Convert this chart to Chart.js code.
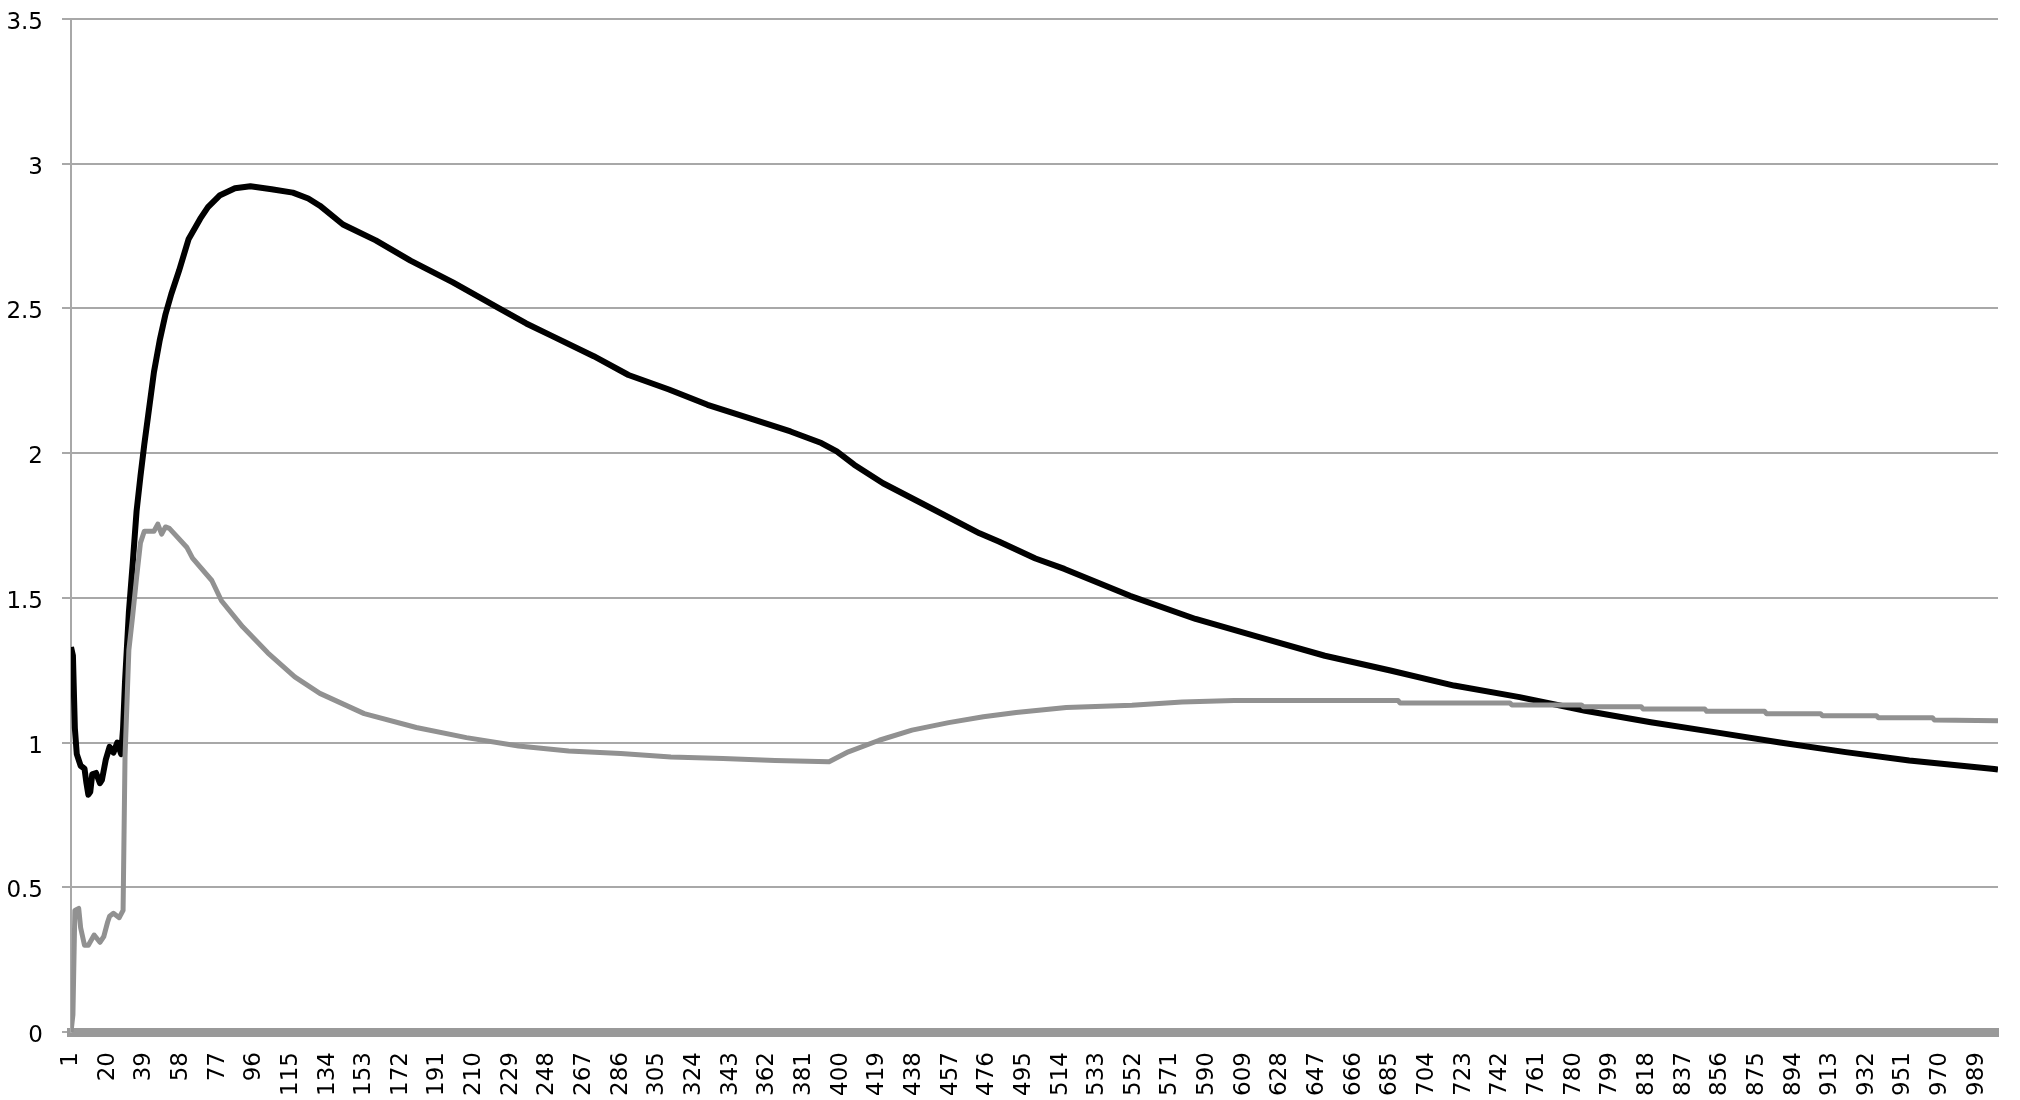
<!DOCTYPE html>
<html>
<head>
<meta charset="utf-8">
<script src="https://cdn.jsdelivr.net/npm/chart.js"></script>
<style>
  body { margin: 0; background: #fff; }
  #wrap { width: 2020px; height: 1100px; }
</style>
</head>
<body>
<div id="wrap"><canvas id="chart"></canvas></div>
<script>
// x positions (row number) and values
const blackX = [1, 2, 3, 4, 6, 8, 9, 10, 11, 12, 14, 16, 17, 19, 21, 23, 25, 27, 28, 29, 31, 33, 35, 37, 39, 41, 44, 47, 50, 53, 57, 62, 68, 72, 78, 86, 94, 105, 116, 124, 130, 142, 159, 177, 199, 223, 237, 250, 272, 290, 311, 331, 353, 374, 390, 398, 407, 422, 444, 472, 482, 501, 516, 550, 584, 617, 651, 685, 718, 752, 786, 820, 853, 887, 921, 954, 998, 1000];
const blackY = [1.33, 1.30, 1.05, 0.96, 0.92, 0.91, 0.86, 0.82, 0.83, 0.89, 0.895, 0.86, 0.87, 0.94, 0.985, 0.965, 1.0, 0.96, 1.05, 1.21, 1.45, 1.62, 1.80, 1.92, 2.03, 2.13, 2.28, 2.39, 2.48, 2.55, 2.63, 2.74, 2.81, 2.85, 2.89, 2.915, 2.922, 2.912, 2.90, 2.88, 2.855, 2.79, 2.735, 2.665, 2.59, 2.50, 2.448, 2.406, 2.335, 2.27, 2.22, 2.167, 2.12, 2.075, 2.035, 2.006, 1.96, 1.896, 1.82, 1.723, 1.695, 1.636, 1.60, 1.507, 1.427, 1.364, 1.30, 1.249, 1.197, 1.157, 1.11, 1.07, 1.036, 1.0, 0.967, 0.938, 0.909, 0.907];

const grayX = [1, 2, 3, 5, 6, 8, 10, 13, 16, 18, 20, 21, 23, 26, 28, 29, 31, 33, 35, 37, 39, 44, 46, 48, 50, 52, 61, 64, 74, 79, 90, 103, 117, 130, 153, 180, 206, 233, 259, 286, 312, 339, 366, 394, 404, 420, 437, 456, 474, 491, 517, 551, 577, 604, 689, 690, 747, 748, 784, 785, 815, 816, 848, 849, 879, 880, 908, 909, 937, 938, 966, 967, 1000];
const grayY = [0.0, 0.06, 0.42, 0.427, 0.36, 0.30, 0.30, 0.335, 0.31, 0.33, 0.38, 0.40, 0.41, 0.395, 0.42, 0.95, 1.32, 1.44, 1.57, 1.69, 1.73, 1.73, 1.755, 1.72, 1.745, 1.74, 1.675, 1.637, 1.56, 1.49, 1.40, 1.31, 1.227, 1.17, 1.10, 1.052, 1.017, 0.988, 0.971, 0.962, 0.95, 0.945, 0.938, 0.934, 0.968, 1.008, 1.043, 1.069, 1.089, 1.104, 1.121, 1.129, 1.14, 1.145, 1.145, 1.137, 1.137, 1.13, 1.13, 1.124, 1.124, 1.116, 1.116, 1.108, 1.108, 1.10, 1.10, 1.093, 1.093, 1.086, 1.086, 1.078, 1.075];

const xTickLabels = [1, 20, 39, 58, 77, 96, 115, 134, 153, 172, 191, 210, 229, 248, 267, 286, 305, 324, 343, 362, 381, 400, 419, 438, 457, 476, 495, 514, 533, 552, 571, 590, 609, 628, 647, 666, 685, 704, 723, 742, 761, 780, 799, 818, 837, 856, 875, 894, 913, 932, 951, 970, 989];
const yTickValues = [0, 0.5, 1, 1.5, 2, 2.5, 3, 3.5];

const toPoints = (xs, ys) => xs.map((x, i) => ({ x: x, y: ys[i] }));

const gridGray = '#a8a8a8';
const labelFont = { family: 'DejaVu Sans', size: 23 };

new Chart(document.getElementById('chart').getContext('2d'), {
  type: 'line',
  data: {
    datasets: [
      {
        data: toPoints(grayX, grayY),
        borderColor: '#919191',
        borderWidth: 5,
        pointRadius: 0,
        tension: 0,
        borderJoinStyle: 'round'
      },
      {
        data: toPoints(blackX, blackY),
        borderColor: '#000000',
        borderWidth: 6,
        pointRadius: 0,
        tension: 0,
        borderJoinStyle: 'round'
      }
    ]
  },
  options: {
    responsive: true,
    maintainAspectRatio: false,
    animation: false,
    layout: { padding: { top: 19, right: 22, bottom: 0, left: 0 } },
    plugins: { legend: { display: false }, tooltip: { enabled: false } },
    scales: {
      x: {
        type: 'linear',
        min: 1,
        max: 1000,
        afterBuildTicks: (scale) => { scale.ticks = xTickLabels.map(v => ({ value: v })); },
        afterFit: (scale) => {
          scale.height = 68;
          scale.paddingLeft = 0;
          scale.paddingRight = 0;
        },
        grid: { display: false, drawTicks: false },
        border: { display: true, color: '#999999', width: 9 },
        ticks: {
          autoSkip: false,
          minRotation: 90,
          maxRotation: 90,
          padding: 20,
          color: '#000',
          font: labelFont
        }
      },
      y: {
        min: 0,
        max: 3.5,
        afterBuildTicks: (scale) => { scale.ticks = yTickValues.map(v => ({ value: v })); },
        afterFit: (scale) => {
          scale.width = 71;
          scale.paddingTop = 0;
          scale.paddingBottom = 0;
        },
        grid: { color: gridGray, lineWidth: 2, drawTicks: true, tickLength: 9 },
        border: { display: true, color: gridGray, width: 2 },
        ticks: {
          padding: 19,
          labelOffset: 4,
          color: '#000',
          font: labelFont,
          callback: (v) => String(v)
        }
      }
    }
  }
});
</script>
</body>
</html>
